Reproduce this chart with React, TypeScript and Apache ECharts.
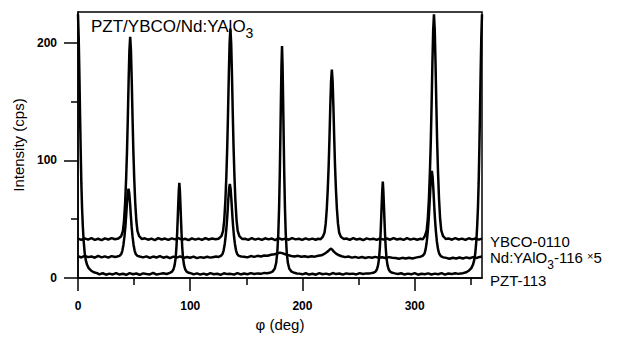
import React, { useEffect, useRef } from "react";
import * as echarts from "echarts";

const FONT = "'Liberation Sans', Arial, sans-serif";

const xMajorTicks = [0, 100, 200, 300];
const xMinorTicks = [50, 150, 250, 350];
const yMajorTicks = [0, 100, 200];
const yMinorTicks = [50, 150];

// PZT-113 phi scan (deg, cps)
const pzt113: number[][] = [
  [0, 224], [0.6, 205], [1.2, 175], [1.8, 140], [2.4, 108], [3, 80], [3.6, 60], [4.3, 44], [5, 32], [6, 21], [7, 15], [8, 11.5], [9.5, 8.5], [11.5, 6.5], [14, 5], [17, 4.2],
  [19, 3.2], [22, 4.1], [25, 2.9], [28, 3.8], [31, 3.1], [34, 4.3], [37, 3], [40, 3.7], [43, 2.8], [46, 4.2], [49, 3.3], [52, 3.9], [55, 2.7], [58, 4], [61, 3.4], [64, 3.1], [67, 4.4], [70, 3], [73, 3.6], [76, 4.1], [79, 3.5],
  [81.8, 4.5], [83.8, 5.5], [85.1, 7.5], [86.1, 11], [87, 17], [87.7, 26], [88.3, 37], [88.8, 49], [89.3, 62], [89.8, 74], [90.3, 81], [90.8, 74], [91.3, 62], [91.8, 49], [92.3, 37], [92.9, 26], [93.6, 17], [94.5, 11], [95.5, 7.5], [96.8, 5.5], [98.8, 4.5],
  [101, 4], [103, 3.2], [106, 4], [109, 3], [112, 3.8], [115, 2.9], [118, 4.2], [121, 3.3], [124, 3.7], [127, 2.8], [130, 4.1], [133, 3.4], [136, 3.6], [139, 3], [142, 4.3], [145, 3.1], [148, 3.9], [151, 3.3], [154, 4.2], [157, 3.5], [160, 4], [163, 3.6], [166, 4.4], [168.5, 4.2],
  [170.8, 4.5], [173.3, 5.5], [175.3, 8], [176.6, 13], [177.6, 22], [178.5, 38], [179.2, 60], [179.8, 88], [180.3, 118], [180.8, 150], [181.3, 180], [181.8, 197], [182.3, 180], [182.8, 150], [183.3, 118], [183.8, 88], [184.4, 60], [185.1, 38], [186, 22], [187, 13], [188.3, 8], [190.3, 5.5], [192.8, 4.5],
  [195, 3.9], [197, 3.8], [200, 3.2], [203, 4.1], [206, 3], [209, 3.7], [212, 2.9], [215, 4.2], [218, 3.3], [221, 3.8], [224, 3], [227, 4.3], [230, 3.4], [233, 3.9], [236, 2.9], [239, 4], [242, 3.4], [245, 3.8], [248, 3.1], [251, 4.2], [254, 3.5], [257, 4], [260, 4],
  [263.1, 4.5], [265.1, 5.5], [266.4, 7.5], [267.4, 11], [268.3, 17], [269, 26], [269.6, 37], [270.1, 49], [270.6, 62], [271.1, 74], [271.6, 82], [272.1, 74], [272.6, 62], [273.1, 49], [273.6, 37], [274.2, 26], [274.9, 17], [275.8, 11], [276.8, 7.5], [278.1, 5.5], [280.1, 4.5],
  [282.5, 4], [285, 3.5], [288, 4.1], [291, 3], [294, 3.8], [297, 3.2], [300, 4.2], [303, 2.9], [306, 3.7], [309, 3.3], [312, 4], [315, 3.1], [318, 3.8], [321, 3.3], [324, 4.2], [327, 3], [330, 3.9], [333, 3.4], [336, 4.1], [339, 3.6], [341, 4],
  [343, 4.2], [346, 5], [348.5, 6.5], [350.5, 8.5], [352, 11.5], [353, 15], [354, 21], [355, 32], [355.7, 44], [356.4, 60], [357, 80], [357.6, 108], [358.2, 140], [358.8, 175], [359.4, 205], [360, 224],
];

// YBCO-0110 phi scan
const ybco0110: number[][] = [
  [0, 33.5], [3, 32.4], [6, 33.8], [9, 32.7], [12, 33.9], [15, 32.5], [18, 33.4], [21, 32.2], [24, 33.7], [27, 32.8], [30, 34], [33, 33], [36, 33.6],
  [38.5, 35.6], [40, 39.9], [41, 48.5], [42, 64], [42.9, 84.6], [43.7, 108.7], [44.4, 136.2], [45.1, 167.2], [45.8, 193], [46.5, 205], [47.2, 193], [47.9, 167.2], [48.6, 136.2], [49.3, 108.7], [50.1, 84.6], [51, 64], [52, 48.5], [53, 39.9], [54.5, 35.6],
  [57, 33.2], [59.5, 33.8], [62.5, 32.6], [65.5, 33.5], [68.5, 32.3], [71.5, 33.9], [74.5, 32.8], [77.5, 33.6], [80.5, 32.4], [83.5, 33.7], [86.5, 32.9], [89.5, 34], [92.5, 32.6], [95.5, 33.4], [98.5, 32.3], [101.5, 33.8], [104.5, 32.7], [107.5, 33.5], [110.5, 32.5], [113.5, 34], [116.5, 32.8], [119.5, 33.6], [122.5, 33], [125.2, 33.4],
  [127.8, 35.7], [129.3, 40.2], [130.3, 49.1], [131.3, 65.2], [132.2, 86.7], [133, 111.8], [133.7, 140.4], [134.4, 172.6], [135.1, 199.5], [135.8, 212], [136.5, 199.5], [137.2, 172.6], [137.9, 140.4], [138.6, 111.8], [139.4, 86.7], [140.3, 65.2], [141.3, 49.1], [142.3, 40.2], [143.8, 35.7],
  [146.3, 33.2], [148.8, 33.4], [151.8, 32.5], [154.8, 33.9], [157.8, 32.7], [160.8, 33.5], [163.8, 32.4], [166.8, 33.8], [169.8, 32.9], [172.8, 33.6], [175.8, 32.3], [178.8, 33.9], [181.8, 32.8], [184.8, 33.5], [187.8, 32.6], [190.8, 34], [193.8, 32.9], [196.8, 33.4], [199.8, 32.5], [202.8, 33.8], [205.8, 32.7], [208.8, 33.5], [211.8, 32.6], [214, 33.4], [216.2, 33],
  [218.2, 35.2], [219.7, 38.8], [220.7, 46], [221.7, 58.9], [222.6, 76.2], [223.4, 96.4], [224.1, 119.4], [224.8, 145.3], [225.5, 166.9], [226.2, 177], [226.9, 166.9], [227.6, 145.3], [228.3, 119.4], [229, 96.4], [229.8, 76.2], [230.7, 58.9], [231.7, 46], [232.7, 38.8], [234.2, 35.2],
  [236.7, 33.3], [239.2, 33.6], [242.2, 32.5], [245.2, 33.9], [248.2, 32.8], [251.2, 33.4], [254.2, 32.3], [257.2, 33.7], [260.2, 32.9], [263.2, 33.5], [266.2, 32.4], [269.2, 33.8], [272.2, 32.7], [275.2, 33.6], [278.2, 32.6], [281.2, 34], [284.2, 32.8], [287.2, 33.4], [290.2, 32.5], [293.2, 33.9], [296.2, 32.7], [299.2, 33.5], [302.2, 32.6], [305.2, 33.4], [307.2, 32.9],
  [309.2, 35.9], [310.7, 40.6], [311.7, 50.2], [312.7, 67.4], [313.6, 90.3], [314.4, 117], [315.1, 147.6], [315.8, 182], [316.5, 210.6], [317.2, 224], [317.9, 210.6], [318.6, 182], [319.3, 147.6], [320, 117], [320.8, 90.3], [321.7, 67.4], [322.7, 50.2], [323.7, 40.6], [325.2, 35.9],
  [327.7, 33.2], [330.2, 33.7], [333.2, 32.6], [336.2, 33.9], [339.2, 32.8], [342.2, 33.5], [345.2, 32.4], [348.2, 33.8], [351.2, 32.9], [354.2, 33.6], [357.2, 32.7], [360, 33.5],
];

// Nd:YAlO3-116 phi scan (x5)
const ndYAlO3x5: number[][] = [
  [0, 18.6], [3, 17.5], [6, 18.9], [9, 17.8], [12, 18.4], [15, 17.3], [18, 18.8], [21, 17.6], [24, 18.5], [27, 17.4], [30, 18.7], [33, 17.9], [35, 18.3],
  [37, 18.9], [38.5, 20.3], [39.5, 23.2], [40.5, 28.4], [41.4, 35.4], [42.2, 43.5], [42.9, 52.8], [43.6, 63.2], [44.3, 71.9], [45, 76], [45.7, 71.9], [46.4, 63.2], [47.1, 52.8], [47.8, 43.5], [48.6, 35.4], [49.5, 28.4], [50.5, 23.2], [51.5, 20.3], [53, 18.9],
  [55, 18.3], [58, 17.6], [61, 18.5], [64, 17.2], [67, 18.3], [70, 17.5], [73, 18.6], [76, 17.3], [79, 18.1], [82, 17], [85, 18.2], [88, 17.4], [91, 18.4], [94, 17.1], [97, 17.9], [100, 17.3], [103, 18.2], [106, 17], [109, 17.8], [112, 17.2], [115, 18.1], [118, 17.4], [121, 18], [123, 18.4], [125.3, 18],
  [127.3, 18.9], [128.8, 20.5], [129.8, 23.6], [130.8, 29.2], [131.7, 36.6], [132.5, 45.3], [133.2, 55.2], [133.9, 66.4], [134.6, 75.7], [135.3, 80], [136, 75.7], [136.7, 66.4], [137.4, 55.2], [138.1, 45.3], [138.9, 36.6], [139.8, 29.2], [140.8, 23.6], [141.8, 20.5], [143.3, 18.9],
  [145.5, 18.4], [148, 18.2], [151, 17.6], [154, 18.7], [157, 18], [160, 18.9], [163, 18.3], [166, 19.2], [169, 19], [172, 19.8], [175, 20.3], [178, 21], [180, 21.6], [182, 21.2], [184, 20.5], [187, 19.6], [190, 18.8], [193, 18.3], [196, 18.9], [199, 18.1], [202, 18.6], [205, 17.9], [208, 18.5], [211, 18.2], [214, 19],
  [217, 19.4], [219, 20.3], [221, 21.5], [223, 23], [224.5, 24.5], [225.5, 25], [226.5, 24.2], [228, 22.5], [230, 20.8], [232, 19.6], [235, 18.6], [238, 17.8], [241, 18.3], [244, 17.4], [247, 18], [250, 17.2], [253, 17.9], [256, 17.1], [259, 17.8], [262, 17.3], [265, 18], [268, 17.2], [271, 17.7], [274, 17], [277, 17.8], [280, 17.3], [283, 17.1], [286, 16.5], [289, 17.2], [292, 16.6], [295, 17.3], [298, 16.7], [301, 17.4], [303, 17.8], [305.3, 18.2],
  [307.3, 19.1], [308.8, 20.9], [309.8, 24.6], [310.8, 31.1], [311.7, 39.9], [312.5, 50.1], [313.2, 61.8], [313.9, 74.9], [314.6, 85.9], [315.3, 91], [316, 85.9], [316.7, 74.9], [317.4, 61.8], [318.1, 50.1], [318.9, 39.9], [319.8, 31.1], [320.8, 24.6], [321.8, 20.9], [323.3, 18.6],
  [325.5, 17.6], [328, 17.2], [331, 16.4], [334, 17.3], [337, 16.6], [340, 17.5], [343, 16.7], [346, 17.6], [349, 16.9], [352, 17.8], [355, 17.1], [358, 18], [360, 18.3],
];

const seriesNames = ["YBCO-0110", "Nd:YAlO3-116 ×5", "PZT-113"];

export default function App() {
  const ref = useRef<HTMLDivElement>(null);

  useEffect(() => {
    if (!ref.current) return;
    const chart = echarts.init(ref.current, null, { renderer: "svg" });
    const axisLineStyle = { color: "#000", width: 1.5 };
    const tickLabel = { color: "#000", fontSize: 12, fontWeight: "bold" as const, fontFamily: FONT };
    const lineStyle = { color: "#000", width: 2.5 };

    chart.setOption({
      animation: false,
      backgroundColor: "#fff",
      grid: {
        left: 78,
        right: 136,
        top: 12,
        bottom: 57,
        show: true,
        borderColor: "#000",
        borderWidth: 1.5,
        backgroundColor: "transparent",
      },
      xAxis: [
        {
          type: "value",
          min: 0,
          max: 360,
          position: "bottom",
          axisLine: { show: true, lineStyle: axisLineStyle },
          axisTick: { show: true, length: 13, customValues: xMajorTicks, lineStyle: axisLineStyle },
          axisLabel: { show: true, customValues: xMajorTicks, margin: 22, ...tickLabel },
          splitLine: { show: false },
          name: "φ (deg)",
          nameLocation: "middle",
          nameGap: 37,
          nameTextStyle: { color: "#000", fontSize: 15, fontFamily: FONT },
        },
        {
          type: "value",
          min: 0,
          max: 360,
          position: "bottom",
          axisLine: { show: false },
          axisTick: { show: true, length: 7, customValues: xMinorTicks, lineStyle: axisLineStyle },
          axisLabel: { show: false },
          splitLine: { show: false },
        },
      ],
      yAxis: [
        {
          type: "value",
          min: 0,
          max: 226,
          position: "left",
          axisLine: { show: true, lineStyle: axisLineStyle },
          axisTick: { show: true, length: 14, customValues: yMajorTicks, lineStyle: axisLineStyle },
          axisLabel: { show: true, customValues: yMajorTicks, margin: 21, ...tickLabel },
          splitLine: { show: false },
          name: "Intensity (cps)",
          nameLocation: "middle",
          nameGap: 40,
          nameRotate: 90,
          nameTextStyle: { color: "#000", fontSize: 15, fontFamily: FONT },
        },
        {
          type: "value",
          min: 0,
          max: 226,
          position: "left",
          axisLine: { show: false },
          axisTick: { show: true, length: 7, customValues: yMinorTicks, lineStyle: axisLineStyle },
          axisLabel: { show: false },
          splitLine: { show: false },
        },
      ],
      series: [
        { name: seriesNames[0], type: "line", data: ybco0110, showSymbol: false, symbol: "none", lineStyle, xAxisIndex: 0, yAxisIndex: 0 },
        { name: seriesNames[1], type: "line", data: ndYAlO3x5, showSymbol: false, symbol: "none", lineStyle, xAxisIndex: 0, yAxisIndex: 0 },
        { name: seriesNames[2], type: "line", data: pzt113, showSymbol: false, symbol: "none", lineStyle, xAxisIndex: 0, yAxisIndex: 0 },
      ],
      graphic: [
        {
          type: "text",
          x: 91,
          y: 18,
          style: {
            text: "{a|PZT/YBCO/Nd:YAlO}{b|3}",
            align: "left",
            verticalAlign: "top",
            fill: "#000",
            rich: {
              a: { fontSize: 17, fontFamily: FONT, lineHeight: 18, verticalAlign: "top", fill: "#000" },
              b: { fontSize: 14, fontFamily: FONT, lineHeight: 30, verticalAlign: "middle", fill: "#000" },
            },
          },
        },
        {
          type: "text",
          x: 490,
          y: 241,
          style: { text: "YBCO-0110", fontSize: 15, fontFamily: FONT, fill: "#000", align: "left", verticalAlign: "middle" },
        },
        {
          type: "text",
          x: 490,
          y: 250,
          style: {
            text: "{a|Nd:YAlO}{b|3}{a|-116 }{c|×}{a|5}",
            align: "left",
            verticalAlign: "top",
            fill: "#000",
            rich: {
              a: { fontSize: 15, fontFamily: FONT, lineHeight: 16, verticalAlign: "top", fill: "#000" },
              b: { fontSize: 12, fontFamily: FONT, lineHeight: 30, verticalAlign: "middle", fill: "#000" },
              c: { fontSize: 11, fontFamily: FONT, lineHeight: 18, verticalAlign: "top", fill: "#000" },
            },
          },
        },
        {
          type: "text",
          x: 490,
          y: 280,
          style: { text: "PZT-113", fontSize: 15, fontFamily: FONT, fill: "#000", align: "left", verticalAlign: "middle" },
        },
      ],
    });
    return () => chart.dispose();
  }, []);

  return (
    <div
      ref={ref}
      style={{ position: "fixed", left: 0, top: 0, width: 618, height: 337, background: "#fff" }}
    />
  );
}
